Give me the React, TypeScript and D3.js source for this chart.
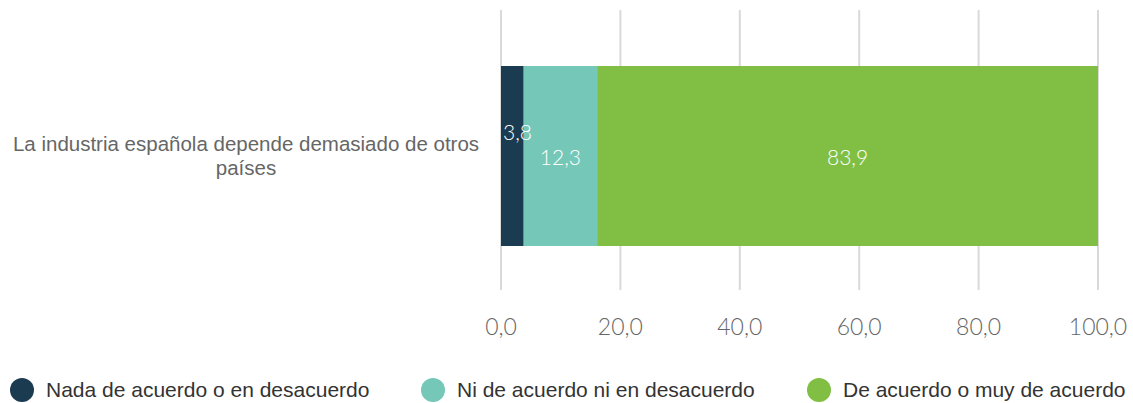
import React from "react";
import * as d3 from "d3";

const categories = ["La industria española depende demasiado de otros países"];
const categoryLines = [["La industria española depende demasiado de otros", "países"]];
const seriesNames = [
  "Nada de acuerdo o en desacuerdo",
  "Ni de acuerdo ni en desacuerdo",
  "De acuerdo o muy de acuerdo",
];
const seriesValues = [[3.8], [12.3], [83.9]];
const seriesColors = ["#1b3b51", "#75c8b8", "#80bf44"];
const xTicks = [0, 20, 40, 60, 80, 100];

const W = 1133;
const H = 403;
const margin = { top: 10, left: 501, right: 35 };
const plotBottom = 290;

const fmt = (v: number) => v.toFixed(1).replace(".", ",");

export default function App() {
  const x = d3.scaleLinear().domain([0, 100]).range([margin.left, W - margin.right]);
  // band sits between y=66 and y=246
  const y = d3.scaleBand().domain(categories).range([66, 246]).padding(0);

  const stackData = categories.map((c, i) => {
    const row: any = { cat: c };
    seriesNames.forEach((s, j) => (row[s] = seriesValues[j][i]));
    return row;
  });
  const stacked = d3.stack().keys(seriesNames)(stackData);

  const legendX = [22, 433, 819];

  return (
    <svg width={W} height={H} style={{ position: "absolute", left: 0, top: 0 }}>
      {xTicks.map((t) => (
        <line key={t} x1={x(t)} x2={x(t)} y1={margin.top} y2={plotBottom} stroke="#d9d9d9" strokeWidth={2} />
      ))}
      {stacked.map((layer, j) =>
        layer.map((d, i) => (
          <rect
            key={`${j}-${i}`}
            x={x(d[0])}
            y={y(categories[i])}
            width={x(d[1]) - x(d[0])}
            height={y.bandwidth()}
            fill={seriesColors[j]}
          />
        ))
      )}
      {stacked.map((layer, j) =>
        layer.map((d, i) => {
          const w = x(d[1]) - x(d[0]);
          const cy = (y(categories[i]) as number) + y.bandwidth() / 2 + 2;
          const narrow = w < 30;
          return (
            <text
              key={`l${j}-${i}`}
              x={narrow ? x(d[0]) + 2 : (x(d[0]) + x(d[1])) / 2}
              y={narrow ? cy - 25 : cy}
              dy="0.35em"
              textAnchor={narrow ? "start" : "middle"}
              fill="#ffffff"
              fontFamily="Lato, 'DejaVu Sans', sans-serif"
              fontWeight={300}
              fontSize={21}
            >
              {fmt(seriesValues[j][i])}
            </text>
          );
        })
      )}
      {categories.map((c, i) => {
        const cy = (y(c) as number) + y.bandwidth() / 2;
        const lines = categoryLines[i];
        return (
          <text
            key={c}
            textAnchor="middle"
            fill="#666666"
            fontFamily="'Liberation Sans', Arial, sans-serif"
            fontSize={20.5}
          >
            {lines.map((l, k) => (
              <tspan key={k} x={246} y={cy + (k - (lines.length - 1) / 2) * 24} dy="0.35em">
                {l}
              </tspan>
            ))}
          </text>
        );
      })}
      {xTicks.map((t) => (
        <text
          key={`t${t}`}
          x={x(t)}
          y={327}
          dy="0.35em"
          textAnchor="middle"
          fill="#666666"
          fontFamily="Lato, 'DejaVu Sans', sans-serif"
          fontWeight={300}
          fontSize={23}
        >
          {fmt(t)}
        </text>
      ))}
      {seriesNames.map((s, j) => (
        <g key={s} transform={`translate(${legendX[j]},390)`}>
          <circle r={12} fill={seriesColors[j]} />
          <text
            x={24}
            dy="0.35em"
            fill="#333333"
            fontFamily="'Liberation Sans', Arial, sans-serif"
            fontSize={21}
          >
            {s}
          </text>
        </g>
      ))}
    </svg>
  );
}
